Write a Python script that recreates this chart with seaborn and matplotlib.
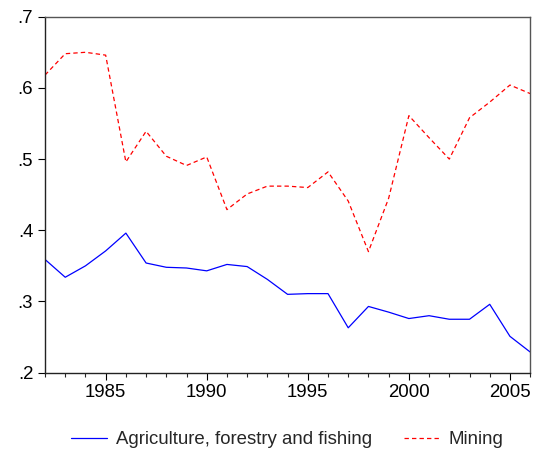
import numpy as np
import pandas as pd
import matplotlib
matplotlib.use("Agg")
import matplotlib.pyplot as plt
from matplotlib.ticker import FuncFormatter, MultipleLocator
from matplotlib.lines import Line2D
import seaborn as sns

years = list(range(1982, 2007))
agriculture = [0.359, 0.334, 0.350, 0.371, 0.396, 0.354, 0.348, 0.347, 0.343, 0.352,
               0.349, 0.331, 0.310, 0.311, 0.311, 0.263, 0.293, 0.285, 0.276, 0.280,
               0.275, 0.275, 0.296, 0.251, 0.229]
mining = [0.618, 0.648, 0.650, 0.646, 0.496, 0.539, 0.504, 0.491, 0.503, 0.429,
          0.451, 0.462, 0.462, 0.460, 0.482, 0.441, 0.370, 0.445, 0.561, 0.530,
          0.500, 0.558, 0.580, 0.604, 0.592]
series_names = ["Agriculture, forestry and fishing", "Mining"]
y_ticks = [0.2, 0.3, 0.4, 0.5, 0.6, 0.7]
x_major = [1985, 1990, 1995, 2000, 2005]

df = pd.DataFrame({
    "year": years * 2,
    "value": agriculture + mining,
    "series": [series_names[0]] * len(years) + [series_names[1]] * len(years),
})

sns.set_style("white")
plt.rcParams["font.family"] = ["Liberation Sans", "DejaVu Sans"]
plt.rcParams["font.size"] = 13.4

fig = plt.figure(figsize=(5.34, 4.55), dpi=100)
ax = fig.add_axes([0.0843, 0.181, 0.9085, 0.7823])

sns.lineplot(data=df, x="year", y="value", hue="series", style="series",
             palette={series_names[0]: "#0000ff", series_names[1]: "#ff0000"},
             dashes={series_names[0]: "", series_names[1]: (3.5, 2.5)},
             linewidth=0.9, ax=ax, legend=False)

ax.set_xlim(1982, 2006)
ax.set_ylim(0.2, 0.7)
ax.set_xlabel("")
ax.set_ylabel("")
ax.set_yticks(y_ticks)
ax.yaxis.set_major_formatter(FuncFormatter(lambda v, p: ("%.1f" % v).lstrip("0")))
ax.set_xticks(x_major)
ax.xaxis.set_minor_locator(MultipleLocator(1))
ax.tick_params(axis="both", which="major", direction="out", length=5, width=0.8,
               pad=3.5, colors="black", labelsize=13.4, bottom=True, left=True)
ax.tick_params(axis="x", which="minor", direction="out", length=3, width=0.8,
               bottom=True)
for side in ["left", "bottom"]:
    ax.spines[side].set_color("#222222")
    ax.spines[side].set_linewidth(1.0)
for side in ["top", "right"]:
    ax.spines[side].set_color("#555555")
    ax.spines[side].set_linewidth(1.0)

handles = [Line2D([], [], color="#0000ff", linewidth=0.9),
           Line2D([], [], color="#ff0000", linewidth=0.9, dashes=(3.5, 2.5))]
fig.legend(handles, series_names, loc="center", bbox_to_anchor=(0.538, 0.033),
           ncol=2, frameon=False, handlelength=1.9, handletextpad=0.5,
           columnspacing=1.7, fontsize=13.4)

fig.savefig("out.png", dpi=100)
